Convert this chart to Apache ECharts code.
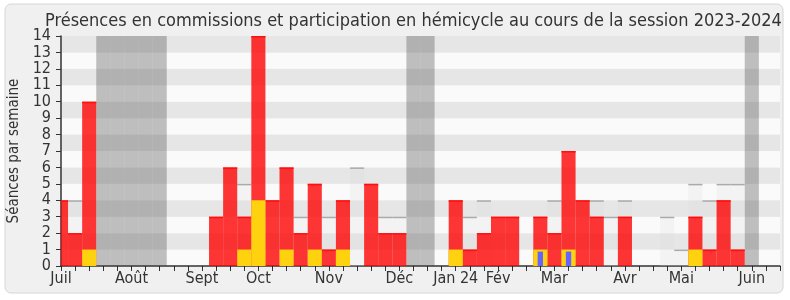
<!DOCTYPE html>
<html>
<head>
<meta charset="utf-8">
<script src="https://cdn.jsdelivr.net/npm/echarts@6/dist/echarts.min.js"></script>
<style>
html,body{margin:0;padding:0;background:#ffffff;}
#chart{width:790px;height:300px;}
</style>
</head>
<body>
<div id="chart"></div>
<script>
// ---- data (one entry per week of the session, week 0 = début juillet 2023) ----
const commissions = [4,2,10,0,0,0,0,0,0,0,0,3,6,3,14,4,6,2,5,1,4,0,5,2,2,0,0,0,4,1,2,3,3,0,3,2,7,4,3,0,3,0,0,0,0,3,1,4,1,0,0];
const hemicycle   = [0,4,0,0,0,0,0,0,0,0,0,0,0,5,0,0,0,3,0,3,0,6,0,3,3,0,0,0,0,3,4,0,0,0,0,4,0,0,4,3,4,0,0,3,1,5,4,5,5,0,0];
const interventions = [[2,1],[13,1],[14,4],[16,1],[18,1],[20,1],[28,1],[34,1],[36,1],[45,1]];
const questions = [[34,1],[36,1]];
const vacances = [3,4,5,6,7,25,26,49];
const monthWeeks  = [0,5,10,14,19,24,28,31,35,40,44,49];
const monthLabels = ['Juil','Août','Sept','Oct','Nov','Déc','Jan 24','Fév','Mar','Avr','Mai','Juin'];
const yMax = 14;
const xMax = 51;

const FONT = '"DejaVu Sans Condensed", "DejaVu Sans", sans-serif';

function rectBar(fill, topColor, topH, widthFrac, topInset) {
  return function (params, api) {
    const x = api.value(0), v = api.value(1);
    if (!v) return null;
    const half = widthFrac / 2;
    const p0 = api.coord([x - half, v]);
    const p1 = api.coord([x + half, 0]);
    const y0 = p0[1] + (topInset || 0);
    const children = [{
      type: 'rect',
      shape: {x: p0[0], y: y0, width: p1[0] - p0[0], height: p1[1] - y0},
      style: {fill: fill}
    }];
    if (topColor) {
      children.push({
        type: 'rect',
        shape: {x: p0[0], y: y0, width: p1[0] - p0[0], height: topH},
        style: {fill: topColor}
      });
    }
    return {type: 'group', children: children};
  };
}

const chart = echarts.init(document.getElementById('chart'), null, {renderer: 'canvas'});
const option = {
  backgroundColor: '#ffffff',
  animation: false,
  graphic: [{
    type: 'rect', z: -10, silent: true,
    shape: {x: 5, y: 4, width: 778, height: 289, r: 6},
    style: {fill: '#f0f0f0', stroke: '#d6d6d6', lineWidth: 1}
  }],
  title: {
    text: 'Présences en commissions et participation en hémicycle au cours de la session 2023-2024',
    left: 40, top: 7,
    textStyle: {fontFamily: FONT, fontSize: 18, fontWeight: 'normal', color: '#333333'}
  },
  grid: {left: 61, top: 36, width: 719, height: 230, containLabel: false, outerBoundsMode: 'none'},
  xAxis: [{
    type: 'value', min: 0, max: xMax, interval: 1,
    axisLine: {show: true, onZero: false, lineStyle: {color: '#333333', width: 1.5}},
    axisTick: {show: true, length: 5, lineStyle: {color: '#333333', width: 1}},
    splitLine: {show: false},
    axisLabel: {
      show: true, margin: 5, fontFamily: FONT, fontSize: 16, color: '#333333',
      showMinLabel: true, showMaxLabel: true,
      formatter: function (v) {
        const k = monthWeeks.indexOf(Math.round(v));
        return k >= 0 ? monthLabels[k] : '';
      }
    }
  }, {
    type: 'value', position: 'top', min: 0, max: xMax, interval: 1,
    axisLine: {show: false},
    axisTick: {show: true, inside: true, length: 1.5, lineStyle: {color: '#222222', width: 1}},
    axisLabel: {show: false},
    splitLine: {show: false}
  }],
  yAxis: {
    type: 'value', min: 0, max: yMax, interval: 1,
    name: 'Séances par semaine', nameLocation: 'middle', nameGap: 39,
    nameTextStyle: {fontFamily: FONT, fontSize: 15, color: '#333333'},
    axisLine: {show: true, lineStyle: {color: '#333333', width: 1.5}},
    axisTick: {show: true, length: 5, lineStyle: {color: '#333333', width: 1}},
    axisLabel: {margin: 10, fontFamily: FONT, fontSize: 16, color: '#333333'},
    splitLine: {show: false},
    splitArea: {show: true, areaStyle: {color: ['#fafafa', '#e6e6e6']}}
  },
  series: [{
    type: 'custom', name: 'vacances', clip: true, z: 1,
    renderItem: function (params, api) {
      const x = api.value(0);
      const p0 = api.coord([x - 0.5, yMax]);
      const p1 = api.coord([x + 0.5, 0]);
      return {type: 'rect', shape: {x: p0[0], y: p0[1], width: p1[0] - p0[0], height: p1[1] - p0[1]},
              style: {fill: 'rgba(70,70,70,0.33)'}};
    },
    data: vacances.map(w => [w, yMax])
  }, {
    type: 'custom', name: 'hémicycle', clip: true, z: 2,
    renderItem: rectBar('rgba(220,220,220,0.22)', '#aaaaaa', 1.5, 1, 0),
    data: hemicycle.map((v, i) => [i, v])
  }, {
    type: 'custom', name: 'commissions', clip: true, z: 3,
    renderItem: rectBar('rgba(255,0,0,0.79)', '#ff1010', 1.5, 1, 0),
    data: commissions.map((v, i) => [i, v])
  }, {
    type: 'custom', name: 'interventions', clip: true, z: 4,
    renderItem: rectBar('#ffd20f', null, 0, 1, 0),
    data: interventions
  }, {
    type: 'custom', name: 'questions', clip: true, z: 5,
    renderItem: rectBar('#6464ff', null, 0, 0.38, 2),
    data: questions
  }]
};
chart.setOption(option);
</script>
</body>
</html>
